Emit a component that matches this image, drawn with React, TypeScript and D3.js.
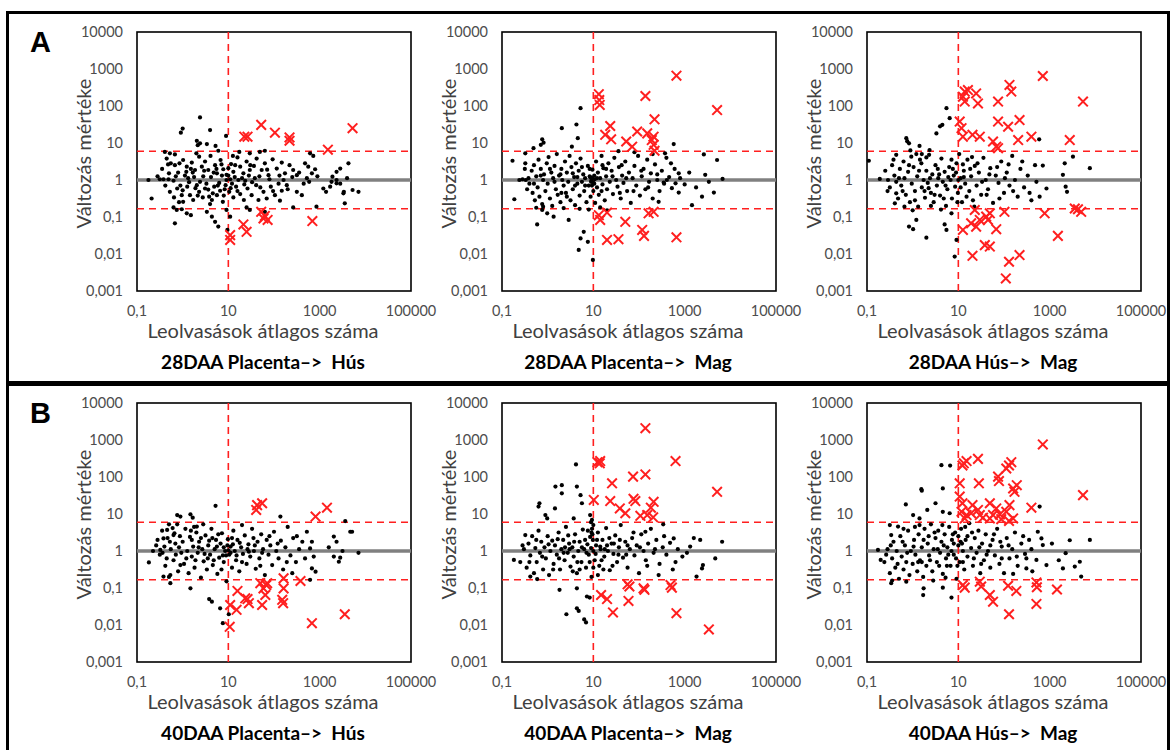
import React from "react";
import * as d3 from "d3";

// Every point is [log10(mean read count), log10(fold change)].
// "Dots" are non-significant genes, "hits" are genes passing both cut-offs.

const a1Dots: number[][] = [
  [0.00,1.39],[-0.04,1.28],[0.60,1.35],[0.95,1.19],[0.31,1.06],[0.38,0.99],[0.38,1.69],
  [0.33,0.94],[0.53,0.97],[0.72,0.92],[0.78,0.79],[-0.39,0.76],[-0.28,0.72],[-0.17,0.69],[1.24,0.76],[1.69,0.76],[1.80,0.79],[1.47,0.72],[2.79,0.72],[2.86,0.65],[3.45,0.31],[3.37,0.22],
  [-0.35,0.58],[-0.26,0.45],[-0.17,0.40],[-0.07,0.45],[0.01,0.54],[0.09,0.36],[0.20,0.47],[0.27,0.27],[0.36,0.63],[0.42,0.36],[0.49,0.50],[0.56,0.27],[0.61,0.65],[0.71,0.40],[0.75,0.18],[0.83,0.54],[0.89,0.29],[0.96,0.14],[1.06,0.43],[1.11,0.22],[1.20,0.61],[1.26,0.36],[1.33,0.18],[1.40,0.50],[1.47,0.27],[1.56,0.38],[1.62,0.58],[1.73,0.27],[1.80,0.45],[1.88,0.13],[1.97,0.56],[2.06,0.31],[2.17,0.47],[2.24,0.18],[2.34,0.40],[2.42,0.27],[2.50,0.13],[2.68,0.45],[2.75,0.36],[2.83,0.18],[2.90,0.29],[3.28,0.09],[3.37,0.00],
  [-0.50,0.02],[-0.42,0.02],[-0.31,0.02],[-0.20,-0.02],[0.12,0.05],[0.38,-0.05],[0.96,0.00],[1.04,0.02],[1.37,-0.02],[2.21,0.00],[2.72,0.05],[2.77,-0.05],[3.26,-0.05],[3.37,-0.09],[-0.68,-0.50],[-0.75,0.00],
  [-0.28,-0.32],[-0.19,-0.47],[-0.12,-0.23],[-0.02,-0.41],[0.01,-0.59],[0.10,-0.18],[0.16,-0.41],[0.23,-0.54],[0.31,-0.14],[0.36,-0.32],[0.44,-0.47],[0.49,-0.23],[0.56,-0.26],[0.64,-0.54],[0.69,-0.18],[0.75,-0.41],[0.82,-0.29],[0.88,-0.59],[0.94,-0.14],[1.02,-0.32],[1.11,-0.47],[1.17,-0.18],[1.26,-0.38],[1.34,-0.54],[1.42,-0.23],[1.51,-0.41],[1.61,-0.14],[1.66,-0.54],[1.77,-0.32],[1.84,-0.50],[1.93,-0.18],[2.02,-0.41],[2.13,-0.56],[2.17,-0.29],[2.28,-0.14],[2.50,-0.32],[2.61,-0.41],[3.08,-0.23],[3.14,-0.32],[3.23,-0.18],[3.53,-0.32],
  [-0.20,-0.74],[-0.13,-0.81],[-0.02,-0.79],[0.09,-0.90],[-0.17,-1.17],[0.18,-0.95],[0.53,-0.86],[0.64,-0.99],[0.71,-1.13],[0.78,-1.26],[0.96,-0.81],[1.04,-0.99],[0.98,-1.35],[1.47,-0.81],[1.40,-0.74],[1.80,-0.86],[2.42,-0.74],[2.93,-0.72],
  [3.72,-0.27],[3.85,-0.32],[3.63,0.45],[3.52,-0.36],[3.55,-0.63],
  [0.05,0.12],[0.14,-0.06],[0.22,0.20],[0.28,-0.22],[0.45,0.10],[0.52,-0.10],[0.62,0.08],[0.66,-0.36],[0.74,0.30],[0.80,-0.08],[0.86,0.12],[0.92,-0.25],[1.00,0.32],[1.08,-0.10],[1.14,0.08],[1.20,-0.30],[1.30,0.05],[1.45,0.12],[1.52,-0.06],[1.68,0.10],[1.90,0.02],[2.10,-0.10],[2.40,0.08],[-0.10,0.20],[-0.30,0.18],[-0.45,0.30],[-0.05,-0.15],[0.18,0.30],
  [-0.55,0.10],[-0.38,-0.15],[-0.32,0.42],[-0.15,0.10],[0.00,-0.28],[0.08,0.22],[0.25,0.08],[0.33,-0.42],[0.47,0.25],[0.58,-0.45],[0.68,0.20],[0.77,-0.15],[0.85,0.42],[0.90,-0.42],[1.00,0.12],[1.05,-0.22],[1.15,0.40],[1.22,0.00],[1.35,-0.12],[1.48,0.40],[1.58,0.05],[1.70,-0.20],[1.85,0.28],[1.98,-0.30],[2.12,0.12],[2.30,-0.25],[2.55,0.20],[2.65,-0.10],[2.95,0.10],[3.45,-0.10],[3.60,0.05],[0.60,-0.65],[0.30,0.72],[1.10,0.65],[-0.08,-0.60],
];
const a1Hits: number[][] = [
  [1.35,1.17],[1.42,1.17],[1.72,1.49],[2.02,1.28],[2.34,1.15],[2.34,1.06],[3.18,0.82],[3.72,1.40],
  [1.04,-1.49],[1.04,-1.62],[1.33,-1.20],[1.40,-1.40],[1.72,-0.86],[1.80,-0.97],[1.86,-1.08],[1.77,-1.04],[2.84,-1.11],
];

const a2Dots: number[][] = [
  [0.72,1.94],[0.31,1.40],[0.63,1.50],[0.66,1.13],[0.53,0.90],[-0.12,1.10],[-0.09,1.01],[-0.15,0.95],[2.76,0.97],[-0.31,0.86],[-0.49,0.72],
  [0.68,-1.89],[0.72,-1.58],[0.79,-1.40],[0.99,-2.16],[0.88,-1.67],[-0.23,-1.20],[0.46,-1.08],[0.13,-0.99],[-0.01,-0.90],[-0.12,-0.81],[-0.73,-0.52],[-0.77,0.52],[-0.49,0.45],
  [3.16,-0.68],[3.38,-0.45],[3.64,-0.34],[3.42,0.69],[3.71,0.54],[3.83,0.03],[3.45,0.14],[3.53,-0.05],[2.87,0.18],[2.80,-0.09],[2.87,-0.34],[2.61,0.00],[2.43,-0.59],[2.54,-0.07],
  [0.95,-0.05],[0.98,0.05],[1.02,-0.10],[0.97,-0.15],[1.03,0.02],[0.93,0.08],
  [-0.25,-0.75],[-0.10,-0.72],[0.35,-0.76],[0.70,-0.78],[0.90,-0.80],[1.15,-0.74],[1.30,-0.82],
  [2.57,0.72],[2.30,0.70],[1.90,0.75],[1.55,0.78],
  [-0.62,0.00],[-0.55,0.02],[-0.48,0.00],[-0.42,0.05],[-0.40,-0.10],[-0.35,0.25],[-0.33,-0.35],[-0.30,0.40],[-0.28,-0.55],[-0.25,0.10],[-0.22,-0.20],[-0.20,0.55],[-0.18,-0.45],[-0.15,0.30],[-0.12,-0.65],[-0.10,0.00],[-0.08,0.15],[-0.05,-0.30],[-0.02,0.45],[0.00,-0.10],[0.02,0.62],[0.05,-0.50],[0.08,0.20],[0.10,-0.70],[0.12,0.05],[0.15,0.38],[0.18,-0.25],[0.20,0.70],[0.22,-0.40],[0.25,0.12],[0.28,-0.60],[0.30,0.30],[0.32,0.00],[0.35,-0.15],[0.38,0.50],[0.40,-0.35],[0.42,0.20],[0.45,-0.05],[0.48,0.65],[0.50,-0.55],[0.52,0.35],[0.55,-0.25],[0.58,0.08],[0.60,-0.68],[0.62,0.45],[0.65,-0.10],[0.68,0.25],[0.70,-0.42],[0.72,0.58],[0.75,-0.05],[0.78,0.15],[0.80,-0.30],[0.82,0.05],[0.85,-0.60],[0.88,0.38],[0.90,-0.15],[0.92,0.10],[0.94,-0.45],[0.96,0.00],[0.98,0.28],[1.00,-0.08],[1.00,-0.30],[1.02,0.12],[1.04,-0.62],[1.06,0.50],[1.08,-0.20],[1.10,0.20],[1.12,-0.40],[1.15,0.05],[1.18,0.65],[1.20,-0.12],[1.22,0.32],[1.25,-0.55],[1.28,0.10],[1.30,-0.25],[1.33,0.45],[1.36,-0.05],[1.40,0.25],[1.43,-0.38],[1.46,0.60],[1.50,0.00],[1.53,-0.18],[1.56,0.35],[1.60,-0.50],[1.63,0.12],[1.66,-0.08],[1.70,0.50],[1.74,-0.30],[1.78,0.20],[1.82,-0.62],[1.86,0.05],[1.90,0.38],[1.94,-0.15],[1.98,0.65],[2.02,-0.42],[2.06,0.10],[2.10,0.30],[2.14,-0.25],[2.18,0.55],[2.22,-0.05],[2.26,0.18],[2.30,-0.50],[2.35,0.42],[2.40,0.00],[2.45,-0.30],[2.50,0.25],[2.55,-0.10],[2.60,0.60],[2.66,0.08],[2.72,-0.22],[2.78,0.30],[2.90,0.05],[3.00,-0.12],
  [-0.50,0.30],[-0.45,-0.25],[-0.30,-0.10],[-0.15,0.12],[0.05,0.30],[0.15,-0.05],[0.28,0.15],[0.42,-0.45],[0.55,0.18],[0.65,0.08],[0.75,0.35],[0.82,-0.15],[0.92,0.30],[1.08,0.05],[1.18,-0.30],[1.28,0.30],[1.42,0.10],[1.58,-0.35],[1.72,0.05],[1.88,-0.30],[2.05,0.25],[2.20,-0.20],[2.40,0.15],[2.70,0.45],[3.10,0.20],[3.25,-0.20],[0.30,-0.35],[0.60,-0.15],[1.20,0.40],[1.62,0.40],
];
const a2Hits: number[][] = [
  [1.12,2.32],[1.13,2.16],[1.14,2.03],[2.14,2.27],[2.82,2.82],[3.71,1.89],[2.34,1.64],[1.37,1.46],[1.26,1.22],[1.39,1.10],[1.72,1.04],[1.85,0.90],[1.96,1.31],[2.18,1.26],[2.32,1.17],[2.28,1.08],[2.32,0.95],[2.34,0.79],
  [1.12,-0.95],[1.15,-1.08],[1.30,-0.88],[1.70,-1.13],[1.30,-1.62],[1.55,-1.60],[2.07,-1.35],[2.11,-1.51],[2.21,-0.90],[2.32,-0.86],[2.82,-1.55],
];

const a3Dots: number[][] = [
  [0.74,1.94],[0.65,1.49],[0.60,1.45],[0.52,1.26],[0.81,1.67],[-0.14,1.13],[-0.08,0.99],[-0.12,1.05],[0.15,0.92],[0.37,0.81],[2.77,1.10],[-0.96,0.52],[-0.36,0.68],
  [0.30,-1.56],[0.92,-2.07],[0.96,-1.62],[0.01,-1.33],[-0.08,-1.26],[0.08,-1.08],[0.74,-1.35],[0.70,-1.20],
  [3.88,0.32],[3.51,0.63],[3.33,0.45],[3.29,0.14],[3.35,-0.18],[3.38,-0.32],[2.93,-0.23],[2.78,-0.45],[2.71,-0.05],[2.85,0.39],
  [-0.72,0.03],[-0.54,0.00],[-0.36,-0.05],[-0.39,-0.63],[-0.18,-0.72],[-0.36,-0.36],[-0.03,0.63],[0.08,0.70],[0.30,0.61],[0.19,0.45],
  [-0.60,0.25],[-0.50,-0.20],[-0.45,0.40],[-0.40,0.12],[-0.32,-0.50],[-0.28,0.30],[-0.25,-0.15],[-0.20,0.50],[-0.18,0.05],[-0.15,-0.40],[-0.10,0.22],[-0.06,-0.60],[-0.02,-0.10],[0.02,0.35],[0.05,-0.30],[0.10,0.10],[0.12,-0.72],[0.16,0.55],[0.20,-0.20],[0.24,0.00],[0.27,-0.48],[0.30,0.25],[0.33,-0.08],[0.36,0.68],[0.40,-0.35],[0.43,0.15],[0.46,-0.60],[0.50,0.40],[0.53,-0.15],[0.56,0.05],[0.60,-0.42],[0.63,0.58],[0.66,-0.05],[0.70,0.22],[0.73,-0.70],[0.76,-0.25],[0.80,0.35],[0.83,0.00],[0.86,-0.50],[0.90,0.12],[0.93,-0.18],[0.96,0.45],[0.99,-0.35],[1.02,0.70],[1.05,0.05],[1.08,-0.60],[1.12,0.25],[1.15,-0.10],[1.20,0.55],[1.24,-0.30],[1.28,0.10],[1.32,-0.55],[1.36,0.38],[1.40,-0.15],[1.45,0.20],[1.50,-0.40],[1.55,0.60],[1.60,0.00],[1.65,-0.25],[1.70,0.32],[1.76,-0.62],[1.82,0.12],[1.88,-0.08],[1.94,0.50],[2.00,-0.35],[2.06,0.20],[2.12,-0.15],[2.18,0.65],[2.24,0.00],[2.30,-0.45],[2.36,0.30],[2.44,-0.20],[2.52,0.12],[2.60,-0.55],[2.68,0.40],[2.10,0.42],[1.90,-0.50],[1.30,0.62],[0.55,0.30],[0.40,-0.70],[1.00,0.00],[1.05,-0.20],[0.95,0.20],[0.85,0.55],[1.35,-0.72],[0.20,0.70],[-0.05,0.80],[0.00,-0.82],[0.62,-0.80],[0.85,-0.90],
  [-0.55,-0.30],[-0.42,0.55],[-0.30,0.05],[-0.22,-0.30],[-0.08,0.40],[0.05,-0.55],[0.14,0.25],[0.26,-0.30],[0.38,0.05],[0.48,-0.40],[0.58,0.15],[0.68,-0.50],[0.78,0.08],[0.88,0.30],[0.98,-0.60],[1.10,0.42],[1.18,-0.45],[1.26,0.30],[1.42,0.45],[1.52,-0.05],[1.68,0.15],[1.85,0.35],[2.02,0.05],[2.20,-0.30],[2.40,0.50],[2.56,-0.35],[0.35,-0.22],[0.72,-0.15],[1.12,0.08],[1.62,-0.40],
];
const a3Hits: number[][] = [
  [1.14,2.39],[1.21,2.43],[1.10,2.25],[1.14,2.12],[1.39,2.34],[1.43,2.07],[1.87,2.12],[2.12,2.57],[2.16,2.39],[2.85,2.81],[3.73,2.12],
  [1.03,1.58],[1.07,1.40],[1.10,1.17],[1.31,1.22],[1.47,1.17],[1.87,1.58],[2.09,1.44],[2.34,1.62],[2.31,1.08],[2.60,1.17],[3.44,1.08],[1.76,1.04],[1.83,0.90],[1.87,0.86],
  [1.36,-0.81],[1.10,-1.35],[1.28,-1.17],[1.39,-1.26],[1.47,-1.08],[1.61,-0.99],[1.69,-0.90],[1.65,-1.08],[1.83,-1.33],[2.01,-0.86],[1.58,-1.76],[1.69,-1.80],[1.31,-2.05],[2.11,-2.21],[2.04,-2.66],[2.34,-2.03],[2.89,-0.90],[3.18,-1.51],[3.55,-0.77],[3.62,-0.79],[3.69,-0.86],
];

const b1Dots: number[][] = [
  [0.72,1.22],[-0.12,0.97],[0.17,0.99],[0.22,0.90],[2.14,0.93],[3.56,0.81],
  [0.88,-1.95],[1.01,-1.71],[0.82,-1.55],[0.64,-1.37],[0.58,-1.30],[0.17,-1.01],[-0.27,-0.87],[-0.42,-0.69],[-0.74,-0.31],
  [3.85,-0.05],[3.71,0.52],[3.42,-0.29],[3.31,-0.15],[2.83,-0.47],[2.79,-0.78],
  [-0.05,0.93],[0.31,0.66],[3.31,0.39],[3.37,0.25],[3.45,-0.18],[3.67,0.52],[2.72,0.52],[2.83,0.25],[2.79,0.07],[2.87,-0.15],[2.91,-0.56],
  [-0.49,0.03],[-0.42,0.34],[-0.20,0.43],[-0.27,-0.65],[-0.05,-0.38],[-0.34,0.57],
  [-0.65,0.00],[-0.55,0.30],[-0.50,-0.10],[-0.45,0.55],[-0.40,0.12],[-0.38,-0.40],[-0.33,0.35],[-0.30,-0.70],[-0.26,0.05],[-0.22,0.62],[-0.20,-0.25],[-0.16,0.20],[-0.12,0.72],[-0.10,-0.55],[-0.06,0.40],[-0.03,-0.05],[0.00,0.25],[0.03,-0.35],[0.06,0.60],[0.10,0.00],[0.13,-0.60],[0.16,0.38],[0.20,-0.15],[0.23,0.12],[0.26,-0.45],[0.30,0.50],[0.33,-0.05],[0.36,0.25],[0.40,-0.72],[0.43,0.05],[0.46,-0.28],[0.50,0.42],[0.53,-0.50],[0.56,0.15],[0.60,-0.10],[0.63,0.60],[0.66,-0.38],[0.70,0.05],[0.73,0.30],[0.76,-0.62],[0.80,-0.18],[0.83,0.20],[0.86,0.48],[0.90,-0.30],[0.93,0.00],[0.96,-0.82],[0.99,0.32],[1.02,-0.10],[1.05,0.12],[1.08,-0.45],[1.11,0.55],[1.14,0.00],[1.17,-0.25],[1.20,0.30],[1.24,-0.55],[1.28,0.10],[1.32,-0.08],[1.36,0.42],[1.40,-0.35],[1.44,0.18],[1.48,-0.15],[1.52,0.60],[1.56,0.00],[1.60,-0.48],[1.64,0.25],[1.68,-0.20],[1.72,0.45],[1.76,0.05],[1.80,-0.65],[1.84,0.30],[1.88,-0.10],[1.92,0.15],[1.96,-0.38],[2.00,0.52],[2.05,0.00],[2.10,-0.20],[2.15,0.28],[2.20,-0.50],[2.25,0.10],[2.30,0.65],[2.36,-0.12],[2.42,0.35],[2.48,-0.30],[2.55,0.05],[2.62,0.25],[0.90,0.10],[1.00,0.02],[1.05,-0.05],[0.95,-0.12],[1.10,0.18],[0.75,0.12],[0.55,-0.20],[0.35,0.10],[1.25,0.22],[1.45,-0.02],[0.20,0.30],[-0.15,-0.10],[0.65,0.35],[1.70,-0.40],[2.40,-0.60],[1.30,0.70],[0.45,0.72],[-0.35,-0.20],[0.85,-0.50],[1.55,0.35],
  [-0.58,0.15],[-0.44,-0.05],[-0.28,0.25],[-0.18,0.48],[-0.08,0.10],[0.08,-0.20],[0.18,0.55],[0.28,-0.25],[0.40,0.35],[0.48,-0.08],[0.58,0.28],[0.68,-0.25],[0.78,0.45],[0.88,-0.12],[0.98,0.15],[1.08,0.35],[1.18,-0.12],[1.30,-0.30],[1.42,0.05],[1.58,0.15],[1.74,-0.05],[1.90,0.40],[2.08,0.20],[2.28,-0.30],[2.50,0.40],[2.68,-0.20],[3.20,0.10],[3.50,0.00],[0.25,0.65],[-0.30,0.72],
];
const b1Hits: number[][] = [
  [1.63,1.24],[1.74,1.29],[1.61,1.11],[2.91,0.93],[3.16,1.17],
  [1.04,-1.46],[1.03,-2.05],[1.20,-1.08],[1.18,-1.59],[1.37,-1.28],[1.45,-1.41],[1.42,-1.30],[1.70,-0.87],[1.74,-1.46],[1.77,-1.01],[1.85,-0.87],[1.81,-1.19],[1.83,-0.92],[2.21,-0.74],[2.21,-1.01],[2.18,-1.32],[2.20,-1.41],[2.58,-0.81],[2.83,-1.95],[3.55,-1.71],
];

const b2Dots: number[][] = [
  [0.62,2.34],[0.17,1.74],[0.31,1.78],[0.31,1.56],[0.64,1.74],[0.72,1.51],[0.75,1.29],[-0.18,1.29],[-0.20,1.20],[0.16,1.15],[-0.01,0.88],[0.57,0.88],[0.93,0.97],[0.97,0.84],[0.95,0.78],[-0.05,0.97],[2.53,0.72],[2.14,0.52],
  [0.41,-1.71],[0.64,-1.55],[0.68,-1.62],[0.80,-1.85],[0.84,-1.93],[0.86,-1.23],[0.92,-1.26],[0.64,-1.01],[0.26,-1.05],[-0.23,-0.76],[-0.38,-0.69],[-0.74,-0.24],[-0.49,0.43],
  [3.82,0.25],[3.67,-0.20],[3.40,-0.38],[3.38,-0.47],[3.26,-0.69],[3.34,0.30],[3.12,0.12],[2.76,0.34],[2.74,-0.50],[2.43,-0.65],
  [0.97,0.60],[0.98,0.45],[0.99,0.30],[1.00,0.70],[0.96,0.50],
  [-0.60,-0.30],[-0.52,0.05],[-0.46,-0.45],[-0.42,0.20],[-0.38,-0.12],[-0.34,0.40],[-0.30,-0.60],[-0.27,0.08],[-0.24,-0.30],[-0.20,0.55],[-0.17,-0.05],[-0.14,0.25],[-0.10,-0.50],[-0.07,0.10],[-0.04,-0.20],[0.00,0.40],[0.03,-0.65],[0.06,0.00],[0.10,0.28],[0.13,-0.35],[0.16,0.15],[0.20,-0.10],[0.24,0.50],[0.27,-0.50],[0.30,0.05],[0.34,0.30],[0.37,-0.25],[0.40,0.65],[0.44,-0.05],[0.47,0.20],[0.50,-0.42],[0.54,0.10],[0.57,-0.15],[0.60,0.45],[0.64,-0.60],[0.67,0.00],[0.70,0.25],[0.74,-0.30],[0.77,0.58],[0.80,0.05],[0.84,-0.45],[0.87,0.18],[0.90,-0.10],[0.93,0.38],[0.96,-0.70],[1.00,0.00],[1.03,-0.25],[1.06,0.15],[1.10,0.50],[1.13,-0.40],[1.16,0.05],[1.20,0.30],[1.24,-0.15],[1.28,0.62],[1.32,0.00],[1.36,-0.52],[1.40,0.20],[1.44,-0.08],[1.48,0.42],[1.52,-0.30],[1.56,0.10],[1.60,0.70],[1.65,-0.18],[1.70,0.25],[1.75,-0.45],[1.80,0.05],[1.85,0.35],[1.90,-0.12],[1.95,0.15],[2.00,-0.60],[2.05,0.45],[2.10,0.00],[2.15,-0.25],[2.20,0.20],[2.26,0.60],[2.32,-0.05],[2.38,0.30],[2.45,-0.35],[2.52,0.10],[2.60,-0.10],[2.68,0.22],[2.85,0.05],[2.95,-0.15],[1.05,-0.08],[0.95,0.08],[1.15,0.12],[0.85,-0.05],[1.25,0.05],[0.75,0.10],[0.65,-0.30],[0.45,0.42],[0.25,-0.20],[1.45,0.20],[1.35,0.35],[1.55,-0.10],[1.75,0.15],[0.55,-0.55],[1.00,-0.45],[1.10,-0.65],
  [-0.55,0.15],[-0.40,-0.30],[-0.25,0.30],[-0.12,-0.15],[0.02,0.18],[0.12,-0.50],[0.22,0.32],[0.35,-0.05],[0.48,0.05],[0.58,0.25],[0.70,-0.50],[0.82,0.30],[0.92,-0.30],[1.08,0.30],[1.18,-0.25],[1.30,0.15],[1.42,-0.40],[1.58,0.30],[1.72,-0.10],[1.88,0.50],[2.02,0.10],[2.18,-0.40],[2.35,0.05],[2.55,0.40],[2.80,-0.30],[3.05,-0.05],[3.20,0.35],[0.38,0.10],[0.88,0.55],[1.22,-0.50],
];
const b2Hits: number[][] = [
  [2.14,3.32],[1.09,2.40],[1.14,2.37],[1.15,2.43],[2.80,2.43],[1.41,1.83],[1.87,2.01],[2.14,2.07],[3.71,1.60],[1.01,1.38],[1.37,1.35],[1.58,1.15],[1.70,1.02],[1.88,1.41],[1.92,1.35],[2.32,1.33],[2.26,1.17],[2.03,0.95],[2.18,0.97],[2.31,0.91],
  [1.17,-1.19],[1.30,-1.30],[1.43,-1.66],[1.75,-0.90],[1.79,-0.96],[1.77,-1.35],[2.10,-1.01],[2.12,-1.05],[2.69,-0.92],[2.72,-0.99],[2.82,-1.68],[3.53,-2.12],
];

const b3Dots: number[][] = [
  [0.63,2.32],[0.82,2.31],[0.66,1.69],[0.19,1.67],[0.20,1.63],[0.50,1.29],[0.66,1.06],[0.81,1.02],[0.32,1.11],[-0.15,1.26],[0.01,0.97],[0.15,0.88],[-0.50,0.70],[-0.32,0.66],[2.78,1.20],[2.74,0.52],[2.85,0.16],[2.82,0.34],
  [0.85,-1.26],[0.66,-0.99],[0.23,-1.19],[0.24,-1.01],[-0.14,-0.83],[-0.47,-0.87],[-0.45,-0.80],
  [3.88,0.30],[3.66,-0.29],[3.69,-0.69],[3.55,-0.42],[3.44,0.29],[3.35,-0.06],[3.29,-0.47],[2.93,-0.38],[2.71,-0.24],[2.49,-0.47],[2.49,-0.20],
  [-0.76,0.03],[-0.70,-0.24],[-0.47,0.43],
  [-0.62,-0.30],[-0.55,0.05],[-0.50,-0.60],[-0.45,-0.20],[-0.42,0.25],[-0.38,-0.45],[-0.35,0.00],[-0.30,-0.75],[-0.27,0.40],[-0.24,-0.15],[-0.20,-0.50],[-0.17,0.15],[-0.14,-0.30],[-0.10,0.55],[-0.07,-0.65],[-0.04,0.00],[0.00,-0.35],[0.03,0.30],[0.06,-0.10],[0.10,-0.55],[0.13,0.45],[0.16,-0.25],[0.20,0.10],[0.23,-0.70],[0.26,0.60],[0.30,-0.40],[0.33,0.20],[0.36,-0.12],[0.40,0.72],[0.43,-0.55],[0.46,0.05],[0.50,0.35],[0.53,-0.30],[0.56,0.55],[0.60,-0.05],[0.63,0.25],[0.66,-0.62],[0.70,0.45],[0.73,-0.20],[0.76,0.10],[0.80,0.65],[0.83,-0.40],[0.86,0.30],[0.90,-0.10],[0.93,0.50],[0.96,-0.75],[1.00,0.15],[1.00,0.40],[1.03,-0.30],[1.06,0.60],[1.10,0.00],[1.13,-0.50],[1.16,0.30],[1.20,-0.15],[1.24,0.75],[1.28,0.08],[1.32,-0.40],[1.36,0.35],[1.40,-0.05],[1.44,0.55],[1.48,-0.60],[1.52,0.20],[1.56,-0.25],[1.60,0.45],[1.65,0.00],[1.70,-0.45],[1.75,0.30],[1.80,-0.12],[1.85,0.60],[1.90,-0.35],[1.95,0.12],[2.00,-0.60],[2.06,0.35],[2.12,-0.20],[2.18,0.05],[2.24,0.50],[2.30,-0.40],[2.38,0.20],[2.46,-0.08],[2.55,0.30],[2.62,-0.55],[1.05,0.25],[0.95,-0.20],[0.90,0.20],[1.10,-0.30],[0.75,-0.40],[0.55,0.05],[0.35,0.40],[1.30,0.50],[1.50,-0.35],[0.20,-0.30],[0.45,-0.80],[1.15,0.65],[0.65,0.70],[-0.20,0.60],[0.05,0.65],[1.70,0.15],[1.95,-0.20],[2.20,-0.62],[0.85,0.00],
  [-0.58,-0.10],[-0.48,0.15],[-0.33,-0.35],[-0.22,0.25],[-0.12,-0.05],[0.02,0.12],[0.12,-0.30],[0.24,0.30],[0.38,-0.25],[0.48,0.50],[0.58,-0.40],[0.68,0.15],[0.78,-0.10],[0.88,0.45],[0.98,-0.40],[1.08,0.20],[1.20,0.40],[1.34,-0.20],[1.46,0.10],[1.62,-0.10],[1.78,0.45],[1.92,0.25],[2.10,0.15],[2.28,-0.15],[2.42,0.40],[2.60,0.05],[3.05,0.20],[3.20,-0.25],[0.15,0.70],[0.72,-0.72],
];
const b3Hits: number[][] = [
  [2.85,2.88],[1.12,2.37],[1.18,2.43],[1.09,2.31],[1.43,2.49],[2.11,2.31],[2.16,2.40],[2.05,2.23],[1.87,2.01],[1.89,1.89],[1.03,1.83],[1.45,1.83],[2.20,1.69],[2.28,1.78],[2.23,1.60],[3.73,1.51],
  [1.03,1.47],[1.09,1.29],[1.31,1.24],[1.07,1.06],[1.18,0.97],[1.28,1.02],[1.43,1.11],[1.47,0.97],[1.69,1.29],[1.76,0.97],[1.83,1.15],[1.91,0.99],[2.05,1.06],[2.12,1.24],[2.20,0.88],[2.11,0.81],[1.94,0.86],[2.60,1.17],[1.14,0.88],[1.54,0.90],[1.69,0.88],
  [1.10,-0.92],[1.14,-0.99],[1.47,-0.83],[1.50,-0.96],[1.69,-1.19],[1.76,-1.37],[2.09,-0.94],[2.11,-1.71],[2.27,-1.08],[2.71,-0.85],[2.72,-0.98],[2.71,-1.43],[3.16,-1.04],
];

const panelTitles = [
  "28DAA Placenta\u2013>  Hús",
  "28DAA Placenta\u2013>  Mag",
  "28DAA Hús\u2013>  Mag",
  "40DAA Placenta\u2013>  Hús",
  "40DAA Placenta\u2013>  Mag",
  "40DAA Hús\u2013>  Mag",
];
const rowLabels = ["A", "B"];
const xTickValues = [0.1, 10, 1000, 100000];
const yTickValues = [0.001, 0.01, 0.1, 1, 10, 100, 1000, 10000];
const foldUpper = 6;
const foldLower = 1 / 6;
const readCutoff = 10;
const xTitle = "Leolvasások átlagos száma";
const yTitle = "Változás mértéke";

const panelDots = [a1Dots, a2Dots, a3Dots, b1Dots, b2Dots, b3Dots];
const panelHits = [a1Hits, a2Hits, a3Hits, b1Hits, b2Hits, b3Hits];

const WIDTH = 1170;
const HEIGHT = 750;
const PLOT_W = 274;
const PLOT_H = 259;
const COL_LEFT = [137, 502, 867];
const ROW_TOP = [32, 403];
const RED = "#ff1f1f";
const FONT = "Lato, 'Open Sans', sans-serif";

const fmt = (v: number) => String(v).replace(".", ",");

function Panel({ left, top, dots, hits, title }: { left: number; top: number; dots: number[][]; hits: number[][]; title: string }) {
  const x = d3.scaleLog().domain([0.1, 100000]).range([left, left + PLOT_W]);
  const y = d3.scaleLog().domain([0.001, 10000]).range([top + PLOT_H, top]);
  const px = (p: number[]) => x(Math.pow(10, p[0]));
  const py = (p: number[]) => y(Math.pow(10, p[1]));
  const s = 4.8;
  const bottom = top + PLOT_H;
  const cx = left + PLOT_W / 2 - 11;
  return (
    <g>
      <rect x={left} y={top} width={PLOT_W} height={PLOT_H} fill="#fff" stroke="#000" strokeWidth={1.6} />
      <line x1={left} x2={left + PLOT_W} y1={y(1)} y2={y(1)} stroke="#808080" strokeWidth={3.4} />
      <line x1={left} x2={left + PLOT_W} y1={y(foldUpper)} y2={y(foldUpper)} stroke={RED} strokeWidth={1.6} strokeDasharray="7,5" />
      <line x1={left} x2={left + PLOT_W} y1={y(foldLower)} y2={y(foldLower)} stroke={RED} strokeWidth={1.6} strokeDasharray="7,5" />
      <line x1={x(readCutoff)} x2={x(readCutoff)} y1={top} y2={bottom} stroke={RED} strokeWidth={1.6} strokeDasharray="7,5" />
      {dots.map((p, i) => (
        <circle key={"d" + i} cx={px(p)} cy={py(p)} r={2.1} fill="#000" />
      ))}
      {hits.map((p, i) => {
        const a = px(p), b = py(p);
        return (
          <path key={"h" + i} d={`M${a - s},${b - s}L${a + s},${b + s}M${a - s},${b + s}L${a + s},${b - s}`} stroke={RED} strokeWidth={2} fill="none" />
        );
      })}
      {yTickValues.map((v) => (
        <text key={"y" + v} x={left - 14} y={y(v)} dy="0.35em" textAnchor="end" fontSize={14.5} fill="#4d4d4d" fontFamily={FONT}>{fmt(v)}</text>
      ))}
      {xTickValues.map((v) => (
        <text key={"x" + v} x={x(v)} y={bottom + 25} textAnchor="middle" fontSize={14.5} fill="#4d4d4d" fontFamily={FONT}>{fmt(v)}</text>
      ))}
      <text transform={`translate(${left - 46},${top + PLOT_H / 2 - 8}) rotate(-90)`} textAnchor="middle" fontSize={20} fill="#404040" fontFamily={FONT}>{yTitle}</text>
      <text x={cx} y={bottom + 47} textAnchor="middle" fontSize={20} fill="#404040" fontFamily={FONT}>{xTitle}</text>
      <text x={cx} y={bottom + 78} textAnchor="middle" fontSize={19} fontWeight="bold" fill="#000" fontFamily={FONT} style={{ whiteSpace: "pre" }}>{title}</text>
    </g>
  );
}

export default function App() {
  return (
    <div style={{ position: "absolute", left: 0, top: 0, width: WIDTH, height: HEIGHT, background: "#fff" }}>
      <svg width={WIDTH} height={HEIGHT} style={{ display: "block" }}>
        <rect width={WIDTH} height={HEIGHT} fill="#fff" />
        {/* outer frame and row separator */}
        <path d={`M7.5,${HEIGHT + 5}V12.5H1168.5V${HEIGHT + 5}`} fill="none" stroke="#000" strokeWidth={3} />
        <line x1={6} x2={1170} y1={383.5} y2={383.5} stroke="#000" strokeWidth={5} />
        {rowLabels.map((r, i) => (
          <text key={r} x={30} y={i === 0 ? 52 : 423} fontSize={29} fontWeight="bold" fontFamily="'Liberation Sans', Arial, sans-serif" fill="#000">{r}</text>
        ))}
        {panelTitles.map((t, i) => (
          <Panel key={t} left={COL_LEFT[i % 3]} top={ROW_TOP[Math.floor(i / 3)]} dots={panelDots[i]} hits={panelHits[i]} title={t} />
        ))}
      </svg>
    </div>
  );
}
